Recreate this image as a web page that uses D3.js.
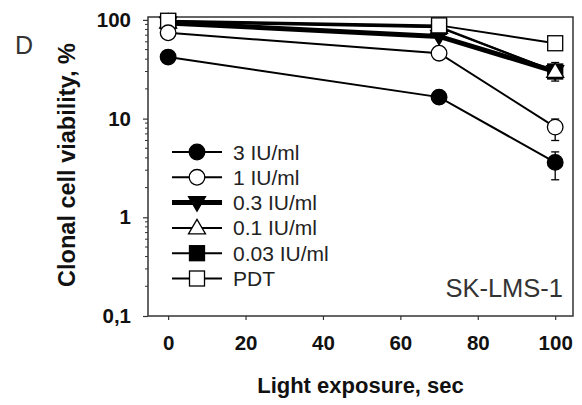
<!DOCTYPE html>
<html>
<head>
<meta charset="utf-8">
<script src="https://cdn.jsdelivr.net/npm/d3@7"></script>
<style>
  body { margin: 0; background: #fff; }
  svg text { font-family: "Liberation Sans", Arial, sans-serif; }
</style>
</head>
<body>
<svg id="chart"></svg>
<script>
const width = 582;
const height = 405;

// light exposure, sec
const exposure = [0, 70, 100];

const labels = ["3 IU/ml", "1 IU/ml", "0.3 IU/ml", "0.1 IU/ml", "0.03 IU/ml", "PDT"];
const symbols = ["circle", "circle", "triangleDown", "triangleUp", "square", "square"];
const filled = [true, false, true, false, true, false];
const thick = [false, false, true, false, false, false];

// clonal cell viability, %
const v3 = [42, 16.5, 3.6];
const v1 = [74, 46, 8.2];
const v03 = [93, 68, 30];
const v01 = [95, 84, 30];
const v003 = [97, 85, 30];
const vPDT = [98, 88, 58];
const seriesValues = [v3, v1, v03, v01, v003, vPDT];

// error bars at 100 sec: [low, high]
const err3 = [2.4, 4.6];
const err1 = [6.0, 9.9];
const err01 = [24, 37];
const errors = [err3, err1, null, err01, null, null];

const xTicks = [0, 20, 40, 60, 80, 100];
const yTicks = [0.1, 1, 10, 100];

const margin = { left: 148, right: 9, top: 17, bottom: 89 };

const svg = d3.select("#chart")
    .attr("width", width)
    .attr("height", height);

const x = d3.scaleLinear()
    .domain([-5.2, 104.6])
    .range([margin.left, width - margin.right]);

const y = d3.scaleLog()
    .domain([0.1, 107])
    .range([height - margin.bottom, margin.top]);

// frame
svg.append("rect")
    .attr("x", margin.left)
    .attr("y", margin.top)
    .attr("width", width - margin.left - margin.right)
    .attr("height", height - margin.top - margin.bottom)
    .attr("fill", "none")
    .attr("stroke", "#333")
    .attr("stroke-width", 1.5);

// x axis
const xAxis = svg.append("g")
    .attr("transform", `translate(0, ${height - margin.bottom})`)
    .call(d3.axisBottom(x).tickValues(xTicks).tickSize(4).tickPadding(15));
xAxis.select(".domain").remove();
xAxis.selectAll("line").attr("stroke", "#333").attr("stroke-width", 1.2);
xAxis.selectAll("text")
    .attr("font-size", 20.5)
    .attr("font-weight", "bold")
    .attr("font-family", "Liberation Sans, Arial, sans-serif")
    .attr("fill", "#111");

// y axis: minor ticks
const minor = [];
[0.1, 1, 10].forEach(d => { for (let k = 2; k <= 9; k++) minor.push(d * k); });
svg.append("g")
    .selectAll("line")
    .data(minor)
    .join("line")
    .attr("x1", margin.left - 3)
    .attr("x2", margin.left)
    .attr("y1", d => y(d))
    .attr("y2", d => y(d))
    .attr("stroke", "#333")
    .attr("stroke-width", 1);

const yAxis = svg.append("g")
    .attr("transform", `translate(${margin.left}, 0)`)
    .call(d3.axisLeft(y).tickValues(yTicks).tickSize(5).tickPadding(12)
        .tickFormat(d => d < 1 ? String(d).replace(".", ",") : d3.format("d")(d)));
yAxis.select(".domain").remove();
yAxis.selectAll("line").attr("stroke", "#333").attr("stroke-width", 1.2);
yAxis.selectAll("text")
    .attr("font-size", 20.5)
    .attr("font-weight", "bold")
    .attr("font-family", "Liberation Sans, Arial, sans-serif")
    .attr("fill", "#111");

// axis titles
svg.append("text")
    .attr("x", (margin.left + width - margin.right) / 2)
    .attr("y", 393)
    .attr("text-anchor", "middle")
    .attr("font-size", 22)
    .attr("font-weight", "bold")
    .attr("fill", "#111")
    .text("Light exposure, sec");

svg.append("text")
    .attr("transform", "translate(75, 165) rotate(-90)")
    .attr("text-anchor", "middle")
    .attr("font-size", 23.5)
    .attr("font-weight", "bold")
    .attr("fill", "#111")
    .text("Clonal cell viability, %");

svg.append("text")
    .attr("x", 15)
    .attr("y", 54)
    .attr("font-size", 25)
    .attr("font-family", "Open Sans, sans-serif")
    .attr("fill", "#333")
    .text("D");

svg.append("text")
    .attr("x", 563)
    .attr("y", 297)
    .attr("text-anchor", "end")
    .attr("font-size", 25.5)
    .attr("font-family", "Open Sans, sans-serif")
    .attr("fill", "#333")
    .text("SK-LMS-1");

function drawSymbol(g, type, cx, cy, fill) {
    if (type === "circle") {
        g.append("circle").attr("cx", cx).attr("cy", cy).attr("r", 7.8)
            .attr("fill", fill ? "#000" : "#fff").attr("stroke", "#000").attr("stroke-width", 1.3);
    } else if (type === "square") {
        g.append("rect").attr("x", cx - 7.5).attr("y", cy - 7.5).attr("width", 15).attr("height", 15)
            .attr("fill", fill ? "#000" : "#fff").attr("stroke", "#000").attr("stroke-width", 1.3);
    } else {
        const s = 8.5;
        const pts = type === "triangleUp"
            ? [[cx, cy - s], [cx + s, cy + s * 0.7], [cx - s, cy + s * 0.7]]
            : [[cx, cy + s], [cx + s, cy - s * 0.7], [cx - s, cy - s * 0.7]];
        g.append("polygon").attr("points", pts.map(p => p.join(",")).join(" "))
            .attr("fill", fill ? "#000" : "#fff").attr("stroke", "#000").attr("stroke-width", 1.3);
    }
}

const line = d3.line()
    .x((d, i) => x(exposure[i]))
    .y(d => y(d));

// drawing order: open triangle on top at 100 sec, PDT square on top at 0 and 70 sec
const order = [4, 2, 3, 5, 1, 0];
order.forEach(s => {
    const g = svg.append("g");
    g.append("path")
        .datum(seriesValues[s])
        .attr("d", line)
        .attr("fill", "none")
        .attr("stroke", "#000")
        .attr("stroke-width", thick[s] ? 5 : 2);
    const e = errors[s];
    if (e) {
        const ex = x(exposure[2]);
        g.append("line").attr("x1", ex).attr("x2", ex).attr("y1", y(e[0])).attr("y2", y(e[1]))
            .attr("stroke", "#000").attr("stroke-width", 1.3);
        e.forEach(v => {
            g.append("line").attr("x1", ex - 4).attr("x2", ex + 4).attr("y1", y(v)).attr("y2", y(v))
                .attr("stroke", "#000").attr("stroke-width", 1.3);
        });
    }
    seriesValues[s].forEach((v, i) => drawSymbol(g, symbols[s], x(exposure[i]), y(v), filled[s]));
});

// legend
const legend = svg.append("g");
labels.forEach((lab, i) => {
    const ly = 152 + i * 25.3;
    legend.append("line")
        .attr("x1", 172).attr("x2", 222).attr("y1", ly).attr("y2", ly)
        .attr("stroke", "#000").attr("stroke-width", thick[i] ? 5 : 2);
    drawSymbol(legend, symbols[i], 197, ly, filled[i]);
    legend.append("text")
        .attr("x", 233)
        .attr("y", ly + 7.5)
        .attr("font-size", 21)
        .attr("fill", "#222")
        .text(lab);
});
</script>
</body>
</html>
